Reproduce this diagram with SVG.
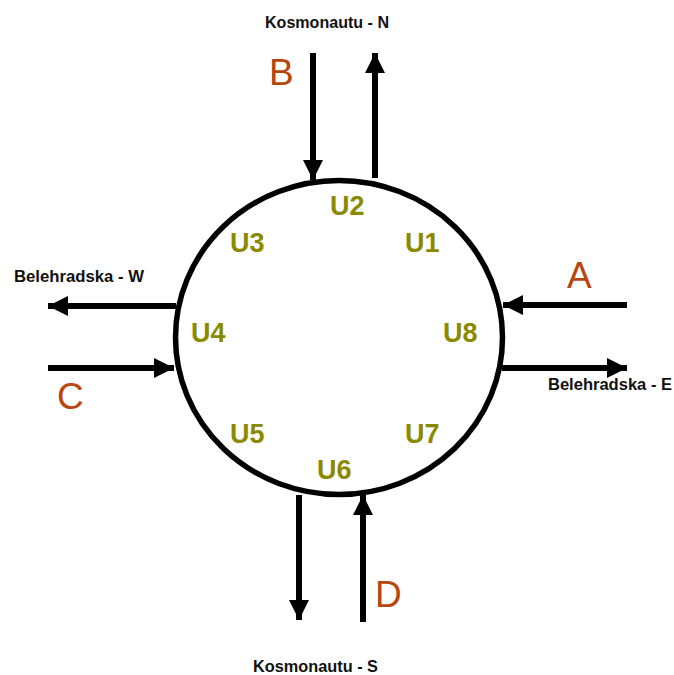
<svg xmlns="http://www.w3.org/2000/svg" width="674" height="675" viewBox="0 0 674 675">
  <style>
    .road { font-family: "Liberation Sans", Arial, sans-serif; font-size: 16px; font-weight: bold; fill: #111; }
    .entry { font-family: "Liberation Sans", Arial, sans-serif; font-size: 37px; fill: #b5470f; }
    .unit { font-family: "Liberation Sans", Arial, sans-serif; font-size: 27px; font-weight: bold; fill: #8a8a00; }
    .flow { stroke: #000; stroke-width: 6; fill: none; marker-end: url(#head); }
  </style>
  <defs>
    <marker id="head" markerUnits="userSpaceOnUse" markerWidth="20" markerHeight="20" refX="20" refY="10" orient="auto">
      <path d="M0,0 L20,10 L0,20 Z" fill="#000"/>
    </marker>
  </defs>
  <rect width="674" height="675" fill="#fff"/>

  <!-- roundabout -->
  <g id="roundabout">
    <ellipse cx="339" cy="337.5" rx="163.5" ry="157" fill="none" stroke="#000" stroke-width="5.5"/>
  </g>

  <!-- connectors -->
  <g id="connectors">
    <line class="flow" x1="313" y1="53" x2="313" y2="180"/>
    <line class="flow" x1="375" y1="178" x2="375" y2="53"/>
    <line class="flow" x1="627" y1="305" x2="503" y2="305"/>
    <line class="flow" x1="502" y1="368" x2="627" y2="368"/>
    <line class="flow" x1="176" y1="306" x2="48" y2="306"/>
    <line class="flow" x1="48" y1="368" x2="174" y2="368"/>
    <line class="flow" x1="299" y1="495" x2="299" y2="620"/>
    <line class="flow" x1="363" y1="622" x2="363" y2="495"/>
  </g>

  <!-- street names -->
  <g id="street-n"><text class="road" x="265" y="28" textLength="124" lengthAdjust="spacingAndGlyphs">Kosmonautu  - N</text></g>
  <g id="street-w"><text class="road" x="14" y="282" textLength="130" lengthAdjust="spacingAndGlyphs">Belehradska  - W</text></g>
  <g id="street-e"><text class="road" x="548" y="390" textLength="124" lengthAdjust="spacingAndGlyphs">Belehradska  - E</text></g>
  <g id="street-s"><text class="road" x="253" y="672" textLength="125" lengthAdjust="spacingAndGlyphs">Kosmonautu  - S</text></g>

  <!-- entries -->
  <g id="entry-a"><text class="entry" x="567" y="288">A</text></g>
  <g id="entry-b"><text class="entry" x="269" y="85">B</text></g>
  <g id="entry-c"><text class="entry" x="57" y="409">C</text></g>
  <g id="entry-d"><text class="entry" x="375" y="607">D</text></g>

  <!-- units around the ring -->
  <g id="u1"><text class="unit" x="405" y="252">U1</text></g>
  <g id="u2"><text class="unit" x="330" y="215">U2</text></g>
  <g id="u3"><text class="unit" x="230" y="252">U3</text></g>
  <g id="u4"><text class="unit" x="191" y="342">U4</text></g>
  <g id="u8"><text class="unit" x="443" y="342">U8</text></g>
  <g id="u5"><text class="unit" x="230" y="443">U5</text></g>
  <g id="u6"><text class="unit" x="317" y="479">U6</text></g>
  <g id="u7"><text class="unit" x="405" y="443">U7</text></g>
</svg>
